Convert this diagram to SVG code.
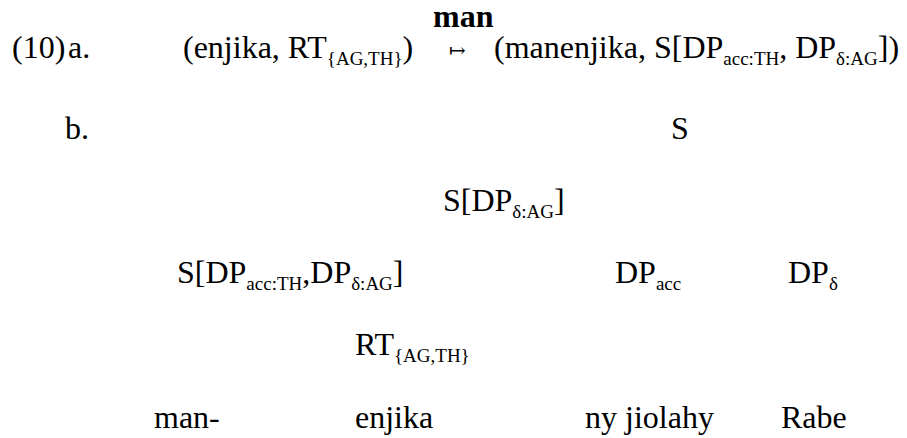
<svg xmlns="http://www.w3.org/2000/svg" width="907" height="438" viewBox="0 0 907 438" font-family="'Liberation Serif', 'Times New Roman', serif">
<style>
text{font-family:'Liberation Serif','Times New Roman',serif;font-size:32px;fill:#000}
.b{font-weight:bold}
.s{font-size:19px}
.arr{font-family:'DejaVu Serif',serif;font-size:20px}
</style>
<rect width="907" height="438" fill="#fff"/>
<g id="header">
<text class="b" x="433" y="27">man</text>
<text x="12" y="58">(10)</text>
<text x="68" y="58">a.</text>
<text x="183" y="58">(enjika, RT<tspan class="s" dy="7">{AG,TH}</tspan><tspan dy="-7">)</tspan></text>
<text class="arr" x="449" y="57">↦</text>
<text x="494" y="58">(manenjika, S[DP<tspan class="s" dy="7">acc:TH</tspan><tspan dy="-7">, DP</tspan><tspan class="s" dy="7">δ:AG</tspan><tspan dy="-7">])</tspan></text>
<text x="65" y="139">b.</text>
</g>
<g id="n-S"><text x="671" y="139">S</text></g>
<g id="n-SDPd"><text x="443" y="211">S[DP<tspan class="s" dy="7">δ:AG</tspan><tspan dy="-7">]</tspan></text></g>
<g id="n-SDPaccDPd"><text x="177" y="283">S[DP<tspan class="s" dy="7">acc:TH</tspan><tspan dy="-7">,DP</tspan><tspan class="s" dy="7">δ:AG</tspan><tspan dy="-7">]</tspan></text></g>
<g id="n-DPacc"><text x="615" y="283">DP<tspan class="s" dy="7">acc</tspan></text></g>
<g id="n-DPd"><text x="788" y="283">DP<tspan class="s" dy="7">δ</tspan></text></g>
<g id="n-RT"><text x="355" y="355">RT<tspan class="s" dy="7">{AG,TH}</tspan></text></g>
<g id="n-man"><text x="154" y="428">man-</text></g>
<g id="n-enjika"><text x="355" y="428">enjika</text></g>
<g id="n-ny"><text x="585" y="428">ny jiolahy</text></g>
<g id="n-Rabe"><text x="781" y="428">Rabe</text></g>
<g id="connectors"></g>
</svg>
